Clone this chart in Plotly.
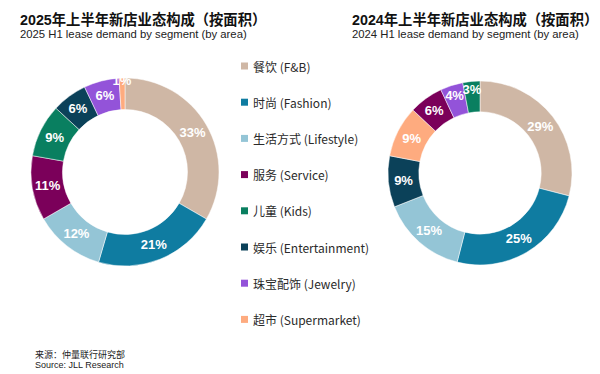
import plotly.graph_objects as go

# ---------------- data ----------------
categories_cn = ["餐饮", "时尚", "生活方式", "服务", "儿童", "娱乐", "珠宝配饰", "超市"]
categories_en = ["F&B", "Fashion", "Lifestyle", "Service", "Kids", "Entertainment", "Jewelry", "Supermarket"]
values_2025 = [33, 21, 12, 11, 9, 6, 6, 1]
values_2024 = [29, 25, 15, 6, 3, 9, 4, 9]
colors = ["#CFB7A5", "#0F7CA1", "#94C5D6", "#7B005A", "#097F60", "#0B4159", "#9353D9", "#FEAB7F"]

title_2025 = "2025年上半年新店业态构成（按面积）"
sub_2025 = "2025 H1 lease demand by segment (by area)"
title_2024 = "2024年上半年新店业态构成（按面积）"
sub_2024 = "2024 H1 lease demand by segment (by area)"
source_cn = "来源：仲量联行研究部"
source_en = "Source: JLL Research"

W, H = 600, 374
labels = [f"{c} ({e})" for c, e in zip(categories_cn, categories_en)]
color_map = dict(zip(labels, colors))


def px(x, y):
    return x / W, 1 - y / H


def sorted_desc(vals):
    idx = sorted(range(len(vals)), key=lambda i: -vals[i])
    return [labels[i] for i in idx], [vals[i] for i in idx]


fig = go.Figure()

for vals, (x0, x1, y0, y1) in [
    (values_2025, (31, 219, 78, 266)),
    (values_2024, (388, 572, 81, 265)),
]:
    lab, v = sorted_desc(vals)
    fig.add_trace(go.Pie(
        labels=lab, values=v, sort=False, direction="clockwise", rotation=0,
        hole=0.665,
        marker=dict(colors=[color_map[l] for l in lab], line=dict(color="white", width=0.5)),
        textinfo="percent", texttemplate="%{value}%",
        textposition="inside", insidetextorientation="horizontal",
        textfont=dict(family="Liberation Sans, Arial, sans-serif", size=13, color="white", weight="bold"),
        domain=dict(x=[x0 / W, x1 / W], y=[1 - y1 / H, 1 - y0 / H]),
        showlegend=False, hoverinfo="label+value",
    ))

ann = []
title_font = dict(family="Liberation Sans, Noto Sans CJK SC, sans-serif", size=14.3, color="#111111", weight="bold")
sub_font = dict(family="Liberation Sans, Arial, sans-serif", size=11.3, color="#222222")
for t, s, x in [(title_2025, sub_2025, 20), (title_2024, sub_2024, 352)]:
    ax, ay = px(x - 2, 9)
    ann.append(dict(text=t, x=ax, y=ay, xref="paper", yref="paper", xanchor="left", yanchor="top",
                    showarrow=False, font=title_font))
    ax, ay = px(x - 2, 26)
    ann.append(dict(text=s, x=ax, y=ay, xref="paper", yref="paper", xanchor="left", yanchor="top",
                    showarrow=False, font=sub_font))

# legend built from the category list
shapes = []
leg_top, leg_step = 66, 36.2
for i, lab in enumerate(labels):
    cy = leg_top + i * leg_step
    sx0, sy0 = px(241, cy - 3.5)
    sx1, sy1 = px(248, cy + 3.5)
    shapes.append(dict(type="rect", xref="paper", yref="paper", x0=sx0, x1=sx1, y0=sy1, y1=sy0,
                       fillcolor=color_map[lab], line=dict(width=0)))
    ax, ay = px(251, cy)
    ann.append(dict(text=lab, x=ax, y=ay, xref="paper", yref="paper", xanchor="left", yanchor="middle",
                    showarrow=False, font=dict(family="Noto Sans CJK SC, sans-serif", size=12, color="#2a2a2a")))

src_font = dict(family="Liberation Sans, Noto Sans CJK SC, sans-serif", size=9, color="#222222")
for t, y in [(source_cn, 347), (source_en, 358)]:
    ax, ay = px(33, y)
    ann.append(dict(text=t, x=ax, y=ay, xref="paper", yref="paper", xanchor="left", yanchor="top",
                    showarrow=False, font=src_font))

fig.update_layout(
    width=W, height=H, margin=dict(l=0, r=0, t=0, b=0),
    paper_bgcolor="white", plot_bgcolor="white",
    annotations=ann, shapes=shapes,
    uniformtext=dict(minsize=13, mode="show"),
    showlegend=False,
)

fig.write_html("out.html", config={"displayModeBar": False},
               post_script="document.body.style.margin='0';")
